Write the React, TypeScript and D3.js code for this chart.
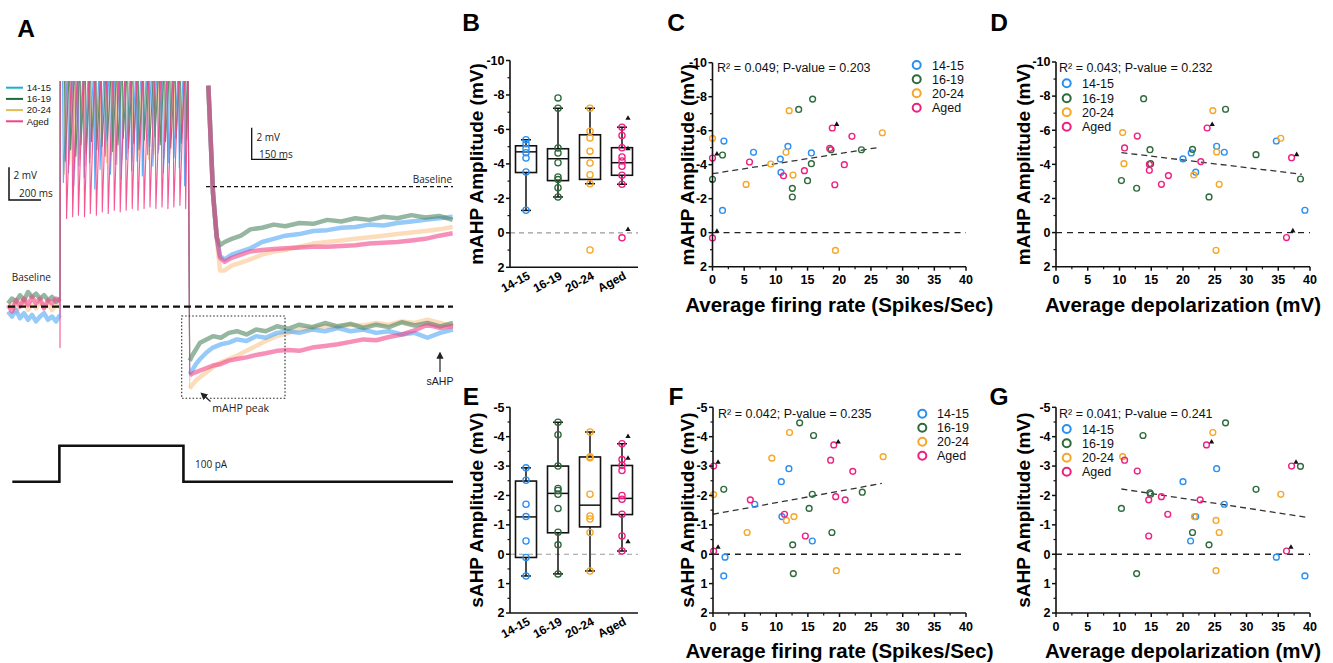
import React from 'react';
import * as d3 from 'd3';

const FONT = "'Liberation Sans', Arial, sans-serif";
const FONT_A = "'Open Sans', 'DejaVu Sans', sans-serif";

const groups = ['14-15', '16-19', '20-24', 'Aged'];
const dotColors = ['#2a8ff2', '#2d6a3c', '#f7a626', '#ee1f80'];
const traceColors = ['#4ea6f5', '#4f8560', '#f8c690', '#f2468a'];
const legendTraceColors = ['#1bb0cf', '#1c6b3a', '#e3bb5f', '#f0438a'];

// ---- Panel A: traces (ms, mV relative to baseline)
const preT = [0, 25, 50, 75, 100, 125, 150, 175, 200, 225, 250, 275, 300, 325];
const preBlue = [-0.3, -0.6, -0.2, -0.7, -0.4, -0.8, -0.5, -0.9, -0.6, -0.4, -0.8, -0.6, -0.9, -0.5];
const preGreen = [0.2, 0.5, 0.3, 0.7, 0.4, 0.9, 0.6, 0.8, 0.5, 0.7, 0.4, 0.6, 0.3, 0.5];
const preOrange = [-0.1, 0.2, -0.3, 0.1, 0.4, -0.2, 0.2, -0.1, 0.3, 0.0, 0.2, -0.2, 0.1, 0.0];
const prePink = [0.1, -0.3, 0.4, 0.0, 0.5, 0.1, 0.6, 0.2, 0.5, -0.1, 0.4, 0.2, 0.5, 0.3];

const spikeTBlue = [340, 372, 405, 437, 470, 503, 536, 569, 602, 634, 667, 700, 733, 766, 800, 833, 866, 899, 932, 965, 998, 1031, 1064, 1097];
const troughBlue = [7.6, 8.2, 7.4, 8.6, 7.9, 8.8, 7.2, 8.4, 9.2, 8.1, 8.7, 7.8, 9.0, 8.3, 8.9, 8.0, 9.3, 8.6, 9.4, 8.2, 8.8, 9.1, 8.5, 7.4];
const spikeTGreen = [352, 385, 418, 450, 483, 516, 549, 582, 615, 648, 681, 714, 747, 780, 813, 846, 879, 912, 945, 978, 1011, 1044, 1077, 1110];
const troughGreen = [8.9, 9.6, 9.2, 9.9, 9.4, 10.1, 9.6, 9.8, 10.2, 9.5, 9.9, 10.3, 9.7, 10.0, 9.6, 10.2, 9.8, 10.4, 9.9, 10.1, 9.7, 10.3, 10.0, 10.2];
const spikeTOrange = [346, 379, 412, 444, 477, 510, 543, 576, 609, 642, 675, 708, 741, 774, 807, 840, 873, 906, 939, 972, 1005, 1038, 1071, 1104];
const troughOrange = [8.1, 8.7, 8.4, 9.0, 8.6, 9.1, 8.5, 9.2, 8.8, 9.3, 8.7, 9.0, 9.4, 8.9, 9.2, 9.5, 9.0, 9.3, 9.6, 9.1, 9.4, 9.2, 9.5, 9.0];
const spikeTPink = [360, 398, 434, 472, 508, 546, 583, 620, 658, 695, 732, 770, 806, 844, 881, 918, 956, 993, 1030, 1068, 1104];
const troughPink = [5.4, 5.5, 5.6, 5.5, 5.7, 5.6, 5.8, 5.7, 5.9, 5.8, 5.9, 6.0, 5.9, 6.0, 6.1, 6.0, 6.1, 6.0, 6.1, 6.2, 6.0];

const recT = [1135, 1150, 1175, 1200, 1240, 1280, 1330, 1380, 1430, 1490, 1550, 1610, 1680, 1750, 1820, 1900, 1980, 2060, 2140, 2220, 2300, 2380, 2460, 2540, 2620, 2700, 2780];
const recBlue = [-4.1, -3.9, -3.5, -3.2, -2.8, -2.5, -2.3, -2.2, -2.0, -2.1, -1.8, -1.9, -1.6, -1.5, -1.6, -1.4, -1.5, -1.3, -1.5, -1.4, -1.6, -1.5, -1.7, -1.6, -1.9, -1.6, -1.4];
const recGreen = [-3.3, -3.0, -2.6, -2.2, -2.0, -1.8, -1.9, -1.6, -1.5, -1.7, -1.4, -1.5, -1.2, -1.35, -1.1, -1.25, -1.0, -1.2, -1.05, -1.3, -1.1, -1.25, -0.95, -1.15, -1.0, -1.2, -1.0];
const recOrange = [-5.0, -4.8, -4.5, -4.3, -4.0, -3.7, -3.4, -3.2, -3.0, -2.7, -2.4, -2.1, -1.8, -1.6, -1.4, -1.3, -1.2, -1.25, -1.1, -1.15, -1.0, -1.1, -0.9, -1.0, -0.8, -1.0, -1.2];
const recPink = [-4.2, -4.1, -4.0, -3.9, -3.75, -3.6, -3.5, -3.3, -3.2, -3.1, -2.95, -2.85, -2.7, -2.65, -2.7, -2.5, -2.4, -2.3, -2.15, -2.0, -2.05, -1.85, -1.7, -1.45, -1.1, -1.3, -1.2];

const insetT = [10, 30, 46, 60, 80, 110, 150, 190, 240, 290, 340, 400, 460, 520, 580, 640, 700, 760, 820, 880, 940, 1000, 1057];
const insetBlue = [6.4, -0.4, -3.2, -4.4, -4.6, -4.3, -4.1, -3.9, -3.5, -3.3, -3.1, -3.0, -2.8, -2.75, -2.6, -2.55, -2.4, -2.45, -2.3, -2.2, -2.1, -2.0, -1.9];
const insetGreen = [6.4, -0.4, -3.2, -3.7, -3.5, -3.3, -3.1, -2.7, -2.6, -2.4, -2.5, -2.3, -2.35, -2.1, -2.2, -2.0, -2.1, -1.9, -2.0, -1.8, -1.95, -1.85, -2.1];
const insetOrange = [6.4, -0.4, -3.2, -5.3, -5.3, -5.0, -4.8, -4.6, -4.3, -4.1, -4.0, -3.8, -3.6, -3.5, -3.4, -3.3, -3.2, -3.1, -3.0, -2.9, -2.8, -2.7, -2.55];
const insetPink = [6.4, -0.4, -3.2, -4.5, -4.75, -4.5, -4.3, -4.1, -4.0, -3.95, -3.9, -3.85, -3.8, -3.8, -3.75, -3.7, -3.6, -3.55, -3.5, -3.4, -3.3, -3.1, -2.95];

const stimT = [27, 321, 321, 1096, 1096, 2780];
const stimPA = [0, 0, 100, 100, 0, 0];

// ---- Panel B / E box plots (mV); box = [whiskerTop, boxTop, median, boxBottom, whiskerBottom]
const mahpPoints = [
  [-5.4, -5.17, -4.88, -4.65, -4.34, -3.53, -1.31],
  [-7.83, -7.23, -4.92, -4.63, -4.07, -3.24, -3.09, -2.62, -2.08],
  [-7.23, -5.9, -5.5, -4.74, -4.05, -3.37, -2.85, 1.0],
  [-6.13, -5.65, -4.94, -4.4, -4.17, -3.86, -3.34, -2.82, 0.29],
];
const mahpBoxes = [
  [-5.4, -5.05, -4.7, -3.5, -1.3],
  [-7.23, -4.88, -4.3, -3.03, -2.08],
  [-7.23, -5.69, -4.36, -3.1, -2.85],
  [-6.13, -4.94, -4.07, -3.34, -2.82],
];
const mahpBoxTriangles = [-6.42, -4.65, 0.04];

const sahpPoints = [
  [-2.94, -2.52, -1.7, -1.28, -0.45, 0.11, 0.74],
  [-4.49, -4.07, -3.0, -2.24, -2.17, -2.04, -1.56, -0.75, -0.32, 0.67],
  [-4.16, -3.32, -3.28, -2.04, -1.3, -1.2, -0.74, 0.57],
  [-3.76, -3.22, -3.03, -2.85, -2.0, -1.87, -1.36, -0.62, -0.11],
];
const sahpBoxes = [
  [-2.94, -2.49, -1.27, 0.11, 0.74],
  [-4.49, -3.0, -2.07, -0.73, 0.67],
  [-4.16, -3.31, -1.67, -0.93, 0.57],
  [-3.76, -3.02, -1.9, -1.35, -0.11],
];
const sahpBoxTriangles = [-3.87, -3.13, -0.29];

// ---- Scatter panels: [x, amplitude] per group
const firingMahp = [
  [[1.8, -5.39], [1.58, -1.31], [6.47, -4.73], [10.7, -4.33], [10.8, -3.55], [11.9, -5.08], [15.6, -4.69]],
  [[0, -3.14], [1.58, -4.57], [13.6, -7.25], [15.8, -7.86], [12.6, -2.61], [12.6, -2.1], [15.0, -3.06], [15.6, -4.06], [18.7, -4.88], [23.5, -4.88]],
  [[0, -5.55], [5.3, -2.84], [9.2, -4.04], [11.6, -4.73], [12.1, -7.18], [12.7, -3.39], [19.4, 1.04], [26.8, -5.88]],
  [[0, -4.39], [0, 0.31], [5.84, -4.16], [11.2, -3.35], [14.5, -3.65], [18.5, -4.96], [18.9, -6.16], [19.3, -2.82], [20.8, -4.0], [22.0, -5.67]],
];
const firingMahpTri = [[0.7, -4.63], [19.6, -6.37], [0.7, -0.08]];
const firingMahpFit = [[0, -3.47], [26.3, -5.02]];

const depolMahp = [
  [[20.0, -4.32], [21.3, -4.67], [22.0, -3.54], [25.3, -5.06], [26.5, -4.71], [34.7, -5.37], [39.2, -1.31]],
  [[10.3, -3.05], [12.7, -2.6], [13.8, -7.85], [14.8, -4.86], [14.9, -4.04], [21.5, -4.88], [24.1, -2.09], [26.7, -7.23], [31.5, -4.57], [38.5, -3.14]],
  [[10.5, -5.86], [10.7, -4.04], [21.7, -3.38], [24.7, -7.15], [25.3, -4.73], [25.7, -2.83], [25.2, 1.04], [35.4, -5.53]],
  [[10.8, -4.96], [12.8, -5.66], [14.7, -4.0], [14.7, -3.65], [16.6, -2.83], [17.7, -3.34], [22.8, -4.16], [23.8, -6.13], [36.3, 0.29], [37.1, -4.39]],
];
const depolMahpTri = [[24.6, -6.33], [37.9, -4.57], [37.3, -0.1]];
const depolMahpFit = [[10.3, -4.69], [38.7, -3.42]];

const firingSahp = [
  [[1.9, 0.1], [1.7, 0.74], [6.6, -1.7], [10.8, -2.47], [10.9, -1.28], [12.0, -2.91], [15.7, -0.45]],
  [[1.7, -2.21], [12.6, -0.32], [12.7, 0.66], [13.7, -4.47], [15.2, -1.56], [15.7, -2.04], [15.9, -4.04], [18.8, -0.74], [23.6, -2.11]],
  [[0.1, -2.03], [5.4, -0.74], [9.3, -3.27], [11.6, -1.15], [12.1, -4.14], [12.8, -1.28], [19.5, 0.56], [26.9, -3.32]],
  [[0.1, -3.0], [0.1, -0.11], [5.9, -1.85], [11.3, -1.36], [14.6, -0.62], [18.6, -3.2], [19.1, -3.72], [19.4, -1.96], [20.9, -1.85], [22.1, -2.82]],
];
const firingSahpTri = [[0.8, -3.13], [0.8, -0.24], [19.8, -3.82]];
const firingSahpFit = [[0, -1.36], [26.7, -2.41]];

const depolSahp = [
  [[20.0, -2.47], [21.2, -0.45], [22.0, -1.28], [25.3, -2.91], [26.5, -1.7], [34.7, 0.1], [39.2, 0.74]],
  [[10.3, -1.56], [12.7, 0.66], [13.7, -4.04], [14.8, -2.09], [14.9, -2.04], [21.5, -0.74], [24.1, -0.32], [26.7, -4.47], [31.5, -2.21], [38.5, -2.99]],
  [[10.5, -3.32], [21.8, -1.28], [24.7, -4.14], [25.2, -1.15], [25.7, -0.74], [25.2, 0.56], [35.4, -2.04]],
  [[10.8, -3.2], [12.8, -2.83], [14.6, -1.85], [14.6, -0.62], [16.6, -1.96], [17.6, -1.36], [22.7, -1.85], [23.7, -3.72], [36.3, -0.11], [37.1, -3.0]],
];
const depolSahpTri = [[24.5, -3.82], [37.8, -3.13], [37.0, -0.24]];
const depolSahpFit = [[10.3, -2.22], [39.4, -1.26]];

const mahpTicks = [-10, -8, -6, -4, -2, 0, 2];
const mahpMinor = [-9, -7, -5, -3, -1, 1];
const sahpTicks = [-5, -4, -3, -2, -1, 0, 1, 2];
const sahpMinor = [-4.5, -3.5, -2.5, -1.5, -0.5, 0.5, 1.5];
const xTicks = [0, 5, 10, 15, 20, 25, 30, 35, 40];
const xMinor = [2.5, 7.5, 12.5, 17.5, 22.5, 27.5, 32.5, 37.5];

const tri = d3.symbol(d3.symbolTriangle, 12)();

function YAxis({ y, x, major, minor }: any) {
  const [r0, r1] = y.range();
  return (
    <g fontFamily={FONT} fontWeight="bold" fontSize={12.5}>
      <line x1={x} x2={x} y1={r0} y2={r1} stroke="#111" strokeWidth={1.6} />
      {minor.map((v: number) => (
        <line key={'m' + v} x1={x - 2.5} x2={x} y1={y(v)} y2={y(v)} stroke="#111" strokeWidth={1.2} />
      ))}
      {major.map((v: number) => (
        <g key={v}>
          <line x1={x - 4} x2={x} y1={y(v)} y2={y(v)} stroke="#111" strokeWidth={1.5} />
          <text x={x - 5.5} y={y(v)} dy="0.35em" textAnchor="end">{String(v)}</text>
        </g>
      ))}
    </g>
  );
}

function XAxis({ x, y }: any) {
  return (
    <g fontFamily={FONT} fontWeight="bold" fontSize={12.5}>
      <line x1={x.range()[0]} x2={x.range()[1]} y1={y} y2={y} stroke="#111" strokeWidth={1.6} />
      {xMinor.map(v => <line key={'m' + v} x1={x(v)} x2={x(v)} y1={y} y2={y + 2.5} stroke="#111" strokeWidth={1.2} />)}
      {xTicks.map(v => (
        <g key={v}>
          <line x1={x(v)} x2={x(v)} y1={y} y2={y + 4} stroke="#111" strokeWidth={1.5} />
          <text x={x(v)} y={y + 17.5} textAnchor="middle">{v}</text>
        </g>
      ))}
    </g>
  );
}

function Letter({ x, y, t }: any) {
  return <text x={x} y={y} textAnchor="middle" fontFamily={FONT} fontWeight="bold" fontSize={24.5}>{t}</text>;
}

function YLabel({ x, y, t }: any) {
  return (
    <text transform={`translate(${x},${y}) rotate(-90)`} textAnchor="middle" fontFamily={FONT} fontWeight="bold" fontSize={19}>{t}</text>
  );
}

function BoxPanel({ points, boxes, tris, domain, ticks, minor, yTop, yBot, label, labelY }: any) {
  const x = d3.scaleBand().domain(groups).range([510, 638]);
  const y = d3.scaleLinear().domain(domain).range([yTop, yBot]);
  const cx = (g: string) => (x(g) as number) + x.bandwidth() / 2;
  return (
    <g>
      <line x1={510} x2={638} y1={y(0)} y2={y(0)} stroke="#9a9a9a" strokeWidth={1.2} strokeDasharray="5,4" />
      {groups.map((g, i) => {
        const [wt, bt, md, bb, wb] = boxes[i];
        const c = cx(g);
        return (
          <g key={g}>
            <line x1={c} x2={c} y1={y(wt)} y2={y(bt)} stroke="#111" strokeWidth={1.5} />
            <line x1={c} x2={c} y1={y(bb)} y2={y(wb)} stroke="#111" strokeWidth={1.5} />
            <line x1={c - 5} x2={c + 5} y1={y(wt)} y2={y(wt)} stroke="#111" strokeWidth={1.5} />
            <line x1={c - 5} x2={c + 5} y1={y(wb)} y2={y(wb)} stroke="#111" strokeWidth={1.5} />
            <rect x={c - 10.5} y={y(bt)} width={21} height={y(bb) - y(bt)} fill="none" stroke="#111" strokeWidth={1.6} />
            <line x1={c - 10.5} x2={c + 10.5} y1={y(md)} y2={y(md)} stroke="#111" strokeWidth={1.5} />
            {points[i].map((v: number, j: number) => (
              <circle key={j} cx={c} cy={y(v)} r={3.1} fill="none" stroke={dotColors[i]} strokeWidth={1.3} />
            ))}
          </g>
        );
      })}
      {tris.map((v: number, j: number) => (
        <path key={j} d={tri} transform={`translate(${cx('Aged') + 6},${y(v) - 4})`} fill="#111" />
      ))}
      <YAxis y={y} x={510} major={ticks} minor={minor} />
      <line x1={510} x2={638} y1={yBot} y2={yBot} stroke="#111" strokeWidth={1.6} />
      {groups.map(g => (
        <text key={g} transform={`translate(${cx(g) + 5},${yBot + 11}) rotate(-28)`} textAnchor="end" fontFamily={FONT} fontWeight="bold" fontSize={12}>{g}</text>
      ))}
      <YLabel x={483} y={labelY} t={label} />
    </g>
  );
}

function ScatterPanel({ data, tris, fit, stats, x0, x1, yTop, yBot, domain, ticks, minor, legend, statsPos, yLabel, yLabelX, xLabel }: any) {
  const x = d3.scaleLinear().domain([0, 40]).range([x0, x1]);
  const y = d3.scaleLinear().domain(domain).range([yTop, yBot]);
  const fitLine = d3.line<number[]>().x(d => x(d[0])).y(d => y(d[1]));
  return (
    <g>
      <line x1={x(0)} x2={x(40)} y1={y(0)} y2={y(0)} stroke="#222" strokeWidth={1.3} strokeDasharray="6,5" />
      <path d={fitLine(fit) as string} stroke="#333" strokeWidth={1.3} strokeDasharray="6,4" fill="none" />
      {data.map((pts: number[][], i: number) => (
        <g key={i}>
          {pts.map((p, j) => (
            <circle key={j} cx={x(p[0])} cy={y(p[1])} r={2.9} fill="none" stroke={dotColors[i]} strokeWidth={1.4} />
          ))}
        </g>
      ))}
      {tris.map((p: number[], j: number) => (
        <path key={j} d={tri} transform={`translate(${x(p[0])},${y(p[1])})`} fill="#111" />
      ))}
      <YAxis y={y} x={x0} major={ticks} minor={minor} />
      <XAxis x={x} y={yBot} />
      <text x={statsPos[0]} y={statsPos[1]} fontFamily={FONT} fontSize={12.5} fill="#111">{stats}</text>
      {groups.map((g, i) => (
        <g key={g}>
          <circle cx={legend.cx} cy={legend.ys[i]} r={4} fill="none" stroke={dotColors[i]} strokeWidth={2} />
          <text x={legend.tx} y={legend.ys[i]} dy="0.36em" fontFamily={FONT} fontSize={12.5} fill="#111">{g}</text>
        </g>
      ))}
      <YLabel x={yLabelX} y={(yTop + yBot) / 2} t={yLabel} />
      <text x={(x0 + x1) / 2} y={yBot + 45} textAnchor="middle" fontFamily={FONT} fontWeight="bold" fontSize={20.5}>{xLabel}</text>
    </g>
  );
}

function PanelA() {
  const x = d3.scaleLinear().domain([0, 2780]).range([8, 453]);
  const y = d3.scaleLinear().domain([0, 2]).range([306.7, 274]);
  const xi = d3.scaleLinear().domain([0, 150]).range([206, 241]);
  const yi = d3.scaleLinear().domain([0, 2]).range([186.7, 155.1]);
  const yStim = d3.scaleLinear().domain([0, 100]).range([481.7, 445.7]);
  const line = d3.line<number[]>().x(d => x(d[0])).y(d => y(d[1]));
  const lineI = d3.line<number[]>().x(d => xi(d[0])).y(d => yi(d[1]));
  const stimLine = d3.line<number>().x((_, i) => x(stimT[i])).y(d => yStim(d));
  const TOP = 15;

  const traces = [
    { pre: preBlue, st: spikeTBlue, tr: troughBlue, rec: recBlue, ins: insetBlue, dip: null },
    { pre: preGreen, st: spikeTGreen, tr: troughGreen, rec: recGreen, ins: insetGreen, dip: null },
    { pre: preOrange, st: spikeTOrange, tr: troughOrange, rec: recOrange, ins: insetOrange, dip: null },
    { pre: prePink, st: spikeTPink, tr: troughPink, rec: recPink, ins: insetPink, dip: -2.5 },
  ];
  const order = [2, 0, 1, 3];

  const spikePts = (t: any) => {
    const pts: number[][] = [[325, t.pre[t.pre.length - 1]]];
    if (t.dip !== null) pts.push([325, t.dip]);
    pts.push([326, TOP]);
    t.st.forEach((s: number, i: number) => {
      pts.push([s, TOP]);
      pts.push([s + 6, t.tr[i]]);
    });
    pts.push([1125, TOP]);
    pts.push([recT[0], t.rec[0]]);
    return pts;
  };

  return (
    <g>
      <defs>
        <clipPath id="clipA"><rect x={0} y={81} width={460} height={330} /></clipPath>
        <marker id="arrowHead" viewBox="0 0 10 10" refX={8} refY={5} markerWidth={6} markerHeight={6} orient="auto-start-reverse">
          <path d="M0,0 L10,5 L0,10 z" fill="#222" />
        </marker>
      </defs>
      <g clipPath="url(#clipA)" fill="none" strokeLinejoin="round">
        {order.map(i => {
          const t = traces[i];
          return (
            <g key={i}>
              <path d={line(preT.map((tt, k) => [tt, t.pre[k]])) as string} stroke={traceColors[i]} strokeWidth={4.5} opacity={0.6} />
              <path d={line(spikePts(t)) as string} stroke={traceColors[i]} strokeWidth={1.1} opacity={0.9} />
              <path d={line(recT.map((tt, k) => [tt, t.rec[k]])) as string} stroke={traceColors[i]} strokeWidth={4.5} opacity={0.6} />
              <path d={lineI(insetT.map((tt, k) => [tt, t.ins[k]])) as string} stroke={traceColors[i]} strokeWidth={4.5} opacity={0.6} />
            </g>
          );
        })}
      </g>
      <line x1={8} x2={453} y1={y(0)} y2={y(0)} stroke="#111" strokeWidth={2.2} strokeDasharray="7,4" />
      <line x1={206} x2={453} y1={yi(0)} y2={yi(0)} stroke="#111" strokeWidth={1.3} strokeDasharray="4,3" />
      <rect x={181.7} y={316} width={103.3} height={82.3} fill="none" stroke="#222" strokeWidth={1.1} strokeDasharray="1.5,2" />
      <line x1={210.5} y1={401.5} x2={201.5} y2={393.5} stroke="#222" strokeWidth={1.2} markerEnd="url(#arrowHead)" />
      <line x1={440} y1={372} x2={440} y2={353} stroke="#222" strokeWidth={1.2} markerEnd="url(#arrowHead)" />
      <path d={stimLine(stimPA) as string} fill="none" stroke="#111" strokeWidth={2.6} />
      <path d="M9,167.3 V200 H41" fill="none" stroke="#111" strokeWidth={1.5} />
      <path d="M251.7,127.7 V159.3 H286.7" fill="none" stroke="#111" strokeWidth={1.3} />
      <g fontFamily={FONT_A} fontSize={10} fill="#222">
        <text x={13.5} y={179}>2 mV</text>
        <text x={19} y={197}>200 ms</text>
        <text x={256.5} y={141}>2 mV</text>
        <text x={259} y={157.5}>150 ms</text>
        <text x={11.7} y={280.5}>Baseline</text>
        <text x={452} y={182.5} textAnchor="end">Baseline</text>
        <text x={212.3} y={412} fontSize={10.5}>mAHP peak</text>
        <text x={195} y={467.5}>100 pA</text>
      </g>
      <text x={440} y={385} textAnchor="middle" fontFamily={FONT} fontSize={10.5} fill="#222">sAHP</text>
      {groups.map((g, i) => (
        <g key={g}>
          <line x1={6} x2={23} y1={87.7 + i * 11.2} y2={87.7 + i * 11.2} stroke={legendTraceColors[i]} strokeWidth={2} />
          <text x={26.7} y={87.7 + i * 11.2} dy="0.35em" fontFamily={FONT} fontSize={9.5} fill="#222">{g}</text>
        </g>
      ))}
    </g>
  );
}

export default function App() {
  return (
    <div style={{ position: 'absolute', left: 0, top: 0, width: 1333, height: 663, background: '#fff' }}>
      <svg width={1333} height={663} viewBox="0 0 1333 663">
        <rect width={1333} height={663} fill="#fff" />
        <PanelA />
        <BoxPanel points={mahpPoints} boxes={mahpBoxes} tris={mahpBoxTriangles} domain={[-10, 2]} ticks={mahpTicks} minor={mahpMinor} yTop={60.5} yBot={267.3} label="mAHP Amplitude (mV)" labelY={164} />
        <BoxPanel points={sahpPoints} boxes={sahpBoxes} tris={sahpBoxTriangles} domain={[-5, 2]} ticks={sahpTicks} minor={sahpMinor} yTop={407.3} yBot={613} label="sAHP Amplitude (mV)" labelY={510} />
        <ScatterPanel data={firingMahp} tris={firingMahpTri} fit={firingMahpFit} stats="R² = 0.049; P-value = 0.203" x0={712.5} x1={966} yTop={62.7} yBot={266.7} domain={[-10, 2]} ticks={mahpTicks} minor={mahpMinor}
          legend={{ cx: 916.7, tx: 932, ys: [65, 79.3, 93.3, 107.7] }} statsPos={[717, 71.5]} yLabel="mAHP Amplitude (mV)" yLabelX={694} xLabel="Average firing rate (Spikes/Sec)" />
        <ScatterPanel data={depolMahp} tris={depolMahpTri} fit={depolMahpFit} stats="R² = 0.043; P-value = 0.232" x0={1056} x1={1310} yTop={62} yBot={266.7} domain={[-10, 2]} ticks={mahpTicks} minor={mahpMinor}
          legend={{ cx: 1066.7, tx: 1082, ys: [83.3, 98.3, 112.3, 126.7] }} statsPos={[1059, 71.5]} yLabel="mAHP Amplitude (mV)" yLabelX={1030} xLabel="Average depolarization (mV)" />
        <ScatterPanel data={firingSahp} tris={firingSahpTri} fit={firingSahpFit} stats="R² = 0.042; P-value = 0.235" x0={713} x1={966} yTop={407.3} yBot={613} domain={[-5, 2]} ticks={sahpTicks} minor={sahpMinor}
          legend={{ cx: 922.3, tx: 937, ys: [413.7, 427.7, 441.7, 455.7] }} statsPos={[718, 418]} yLabel="sAHP Amplitude (mV)" yLabelX={694} xLabel="Average firing rate (Spikes/Sec)" />
        <ScatterPanel data={depolSahp} tris={depolSahpTri} fit={depolSahpFit} stats="R² = 0.041; P-value = 0.241" x0={1056} x1={1310} yTop={407.3} yBot={613} domain={[-5, 2]} ticks={sahpTicks} minor={sahpMinor}
          legend={{ cx: 1066.7, tx: 1082, ys: [429, 443.3, 457.7, 471.7] }} statsPos={[1059, 418]} yLabel="sAHP Amplitude (mV)" yLabelX={1030} xLabel="Average depolarization (mV)" />
        <Letter x={26} y={37} t="A" />
        <Letter x={471} y={31} t="B" />
        <Letter x={676} y={31} t="C" />
        <Letter x={999} y={31} t="D" />
        <Letter x={471} y={405} t="E" />
        <Letter x={676} y={405} t="F" />
        <Letter x={999} y={405} t="G" />
      </svg>
    </div>
  );
}
